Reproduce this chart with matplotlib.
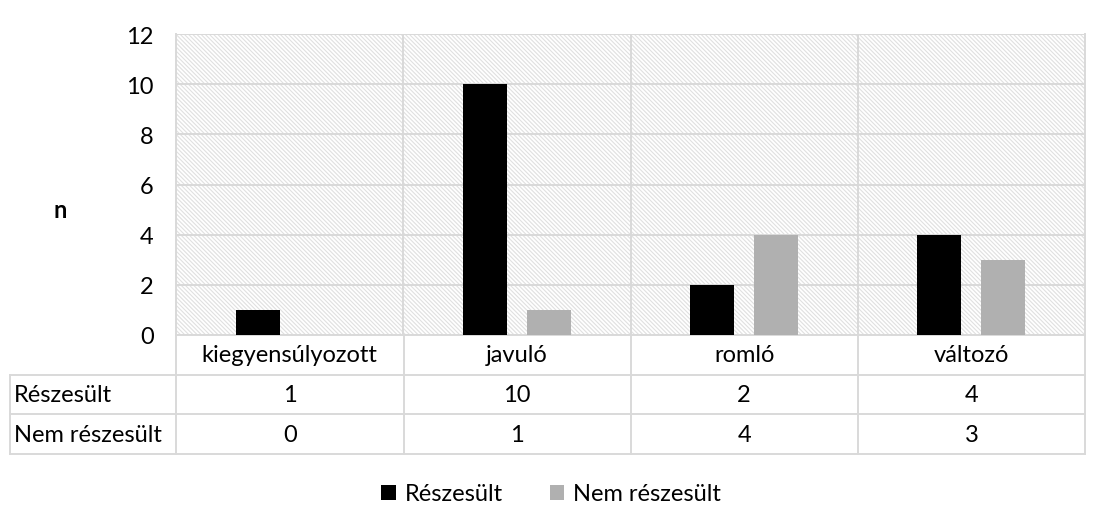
import matplotlib
matplotlib.use("Agg")
import matplotlib.pyplot as plt
from matplotlib.patches import Patch
import numpy as np

categories = ["kiegyensúlyozott", "javuló", "romló", "változó"]
series_names = ["Részesült", "Nem részesült"]
reszesult = [1, 10, 2, 4]
nem_reszesult = [0, 1, 4, 3]
yticks = [0, 2, 4, 6, 8, 10, 12]

plt.rcParams['font.family'] = ['Lato', 'DejaVu Sans']
plt.rcParams['hatch.linewidth'] = 0.8

W, H = 1101, 506
fig = plt.figure(figsize=(W / 100, H / 100), dpi=100)
L, R, T, B = 176, 1085, 35, 336
ax = fig.add_axes([L / W, 1 - B / H, (R - L) / W, (B - T) / H])

grid_c = '#d9d9d9'
black = '#000000'
gray = '#b0b0b0'
fs = 17

ax.set_xlim(-0.5, len(categories) - 0.5)
ax.set_ylim(0, 12)
ax.add_patch(plt.Rectangle((0, 0), 1, 1, transform=ax.transAxes, facecolor='white',
                           edgecolor='#e0e0e0', linewidth=0, hatch='\\' * 8, zorder=0))
ax.set_facecolor('white')

x = np.arange(len(categories))
bw = 0.194
off = 0.141
ax.bar(x - off, reszesult, bw, color=black, zorder=3)
ax.bar(x + off, nem_reszesult, bw, color=gray, zorder=3)

ax.set_yticks(yticks)
ax.set_yticklabels([str(v) for v in yticks], fontsize=fs)
ax.tick_params(axis='y', length=0, pad=16)
ax.set_xticks([])
for v in yticks:
    ax.axhline(v, color=grid_c, lw=1.4, zorder=1)
for xv in np.arange(0.5, len(categories) - 0.5, 1):
    ax.axvline(xv, color=grid_c, lw=1.4, zorder=1)
for s in ['top', 'bottom']:
    ax.spines[s].set_visible(False)
for s in ['left', 'right']:
    ax.spines[s].set_color(grid_c)
    ax.spines[s].set_linewidth(1.4)

ax.text(60 / W, 1 - 211 / H, 'n', transform=fig.transFigure, fontsize=fs,
        fontweight='bold', ha='center', va='center')

# data table
def ay(py):
    return (B - py) / (B - T)

def axx(px):
    return (px - L) / (R - L)

rows = [336, 376, 415, 455]
lk = dict(color=grid_c, lw=1.4, clip_on=False, transform=ax.transAxes)
ax.plot([0, 1], [ay(336)] * 2, **lk)
for ry in rows[1:]:
    ax.plot([axx(10), 1], [ay(ry)] * 2, **lk)
for vx in [L, 404, 631, 858, R]:
    ax.plot([axx(vx)] * 2, [ay(336), ay(455)], **lk)
ax.plot([axx(10)] * 2, [ay(376), ay(455)], **lk)

xt = ax.get_xaxis_transform()
for i, c in enumerate(categories):
    ax.text(i, ay(356), c, transform=xt, ha='center', va='center', fontsize=fs, clip_on=False)
    ax.text(i, ay(396), str(reszesult[i]), transform=xt, ha='center', va='center',
            fontsize=fs, clip_on=False)
    ax.text(i, ay(435), str(nem_reszesult[i]), transform=xt, ha='center', va='center',
            fontsize=fs, clip_on=False)
ax.text(axx(14), ay(396), series_names[0], transform=ax.transAxes, ha='left',
        va='center', fontsize=fs, clip_on=False)
ax.text(axx(14), ay(435), series_names[1], transform=ax.transAxes, ha='left',
        va='center', fontsize=fs, clip_on=False)

handles = [Patch(facecolor=black, label=series_names[0]),
           Patch(facecolor=gray, label=series_names[1])]
fig.legend(handles=handles, loc='center', bbox_to_anchor=(551 / W, 1 - 495 / H),
           ncol=2, frameon=False, fontsize=fs, handlelength=0.62, handleheight=0.62,
           handletextpad=0.35, columnspacing=2.0, borderpad=0)

fig.savefig('out.png', dpi=100)
